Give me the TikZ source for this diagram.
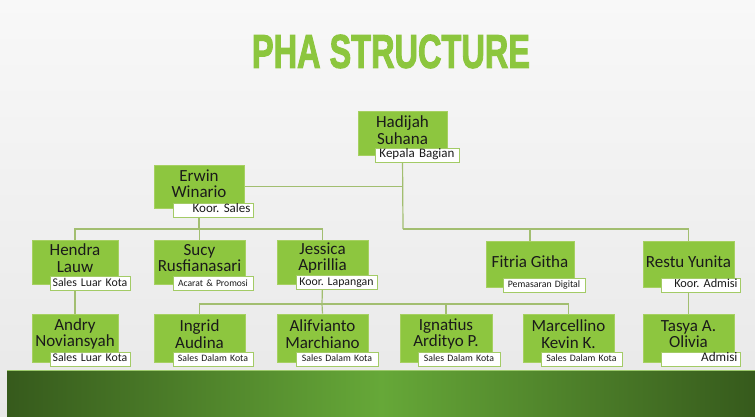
\documentclass[tikz,border=0pt]{standalone}
\usepackage{fontspec}
\setmainfont{Carlito}
\newfontfamily\titlefont[FakeBold=2.5]{Liberation Sans Bold}
\usetikzlibrary{backgrounds}
\definecolor{boxgreen}{HTML}{8DC63F}
\definecolor{boxedge}{HTML}{A6D061}
\definecolor{lbledge}{HTML}{A3CB66}
\definecolor{linkcol}{HTML}{A2BE70}
\definecolor{titlegreen}{HTML}{8CC63E}
\definecolor{banddark}{HTML}{365A1C}
\definecolor{bandmid}{HTML}{66A838}
\definecolor{bandtop}{HTML}{9CC96B}
\definecolor{bgtop}{HTML}{F8F8F8}
\definecolor{bgbot}{HTML}{E8E8E8}
\definecolor{inkcol}{HTML}{1A1A1A}
\frenchspacing
\newcommand\person[7]{% id, x, y, w, h, text, raise
  \node[pbox, minimum width=#4pt, minimum height=#5pt] (#1) at (#2,#3) {};
  \node[ptext] (#1T) at ([yshift=#7pt]#1.center) {#6};}
\begin{document}
\begin{tikzpicture}[x=1pt,y=-1pt,
  pbox/.style={fill=boxgreen, draw=boxedge, line width=0.8pt, inner sep=0pt},
  ptext/.style={inner sep=0pt, align=center, text=inkcol, font=\fontsize{17}{16.5}\selectfont},
  lbl/.style={fill=white, draw=lbledge, line width=1pt, inner sep=0pt,
    text=inkcol, minimum height=14pt, text height=7.5pt, text depth=2pt},
  link/.style={draw=linkcol, line width=1.2pt},
  fs/.style={font=\fontsize{#1}{#1}\selectfont}
]
\useasboundingbox (0,0) rectangle (755,416);
\begin{scope}[on background layer]
  \fill[top color=bgtop, bottom color=bgbot] (0,0) rectangle (755,416);
  \fill[left color=banddark, right color=banddark, middle color=bandmid] (7,370) rectangle (755,416);
  \draw[bandtop, line width=1pt] (7,370.5) -- (755,370.5);
\end{scope}

% title
\node[text=titlegreen, inner sep=0pt] (title) at (391,51.5)
  {\resizebox{278pt}{33pt}{\titlefont PHA STRUCTURE}};

% level 1
\person{had}{402.5}{133}{89}{44}{Hadijah\\Suhana}{3}
\node[lbl, fs=13, minimum width=84pt, text width=80pt, align=center] (hadL) at (417,155) {Kepala Bagian};

% level 2
\person{erw}{199}{186.5}{90}{43}{Erwin\\Winario}{3}
\node[lbl, fs=13, minimum width=80pt, text width=75pt, align=right] (erwL) at (213,210) {Koor. Sales};

% level 3
\person{hen}{75}{262}{86}{44}{Hendra\\Lauw}{4}
\node[lbl, fs=11.8, minimum width=80pt, text width=78pt, align=center] (henL) at (90,283.5) {Sales Luar Kota};

\person{suc}{199.5}{262}{91}{44}{Sucy\\Rusfianasari}{4}
\node[lbl, fs=9.6, minimum width=80pt, text width=78pt, align=center] (sucL) at (213,283.5) {Acarat \& Promosi};

\person{jes}{322.5}{262}{91}{44}{Jessica\\Aprillia}{4}
\node[lbl, fs=11.8, minimum width=81pt, text width=79pt, align=center] (jesL) at (336.5,282.5) {Koor. Lapangan};

\person{fit}{530}{264}{88}{46}{Fitria Githa}{2}
\node[lbl, fs=9.8, minimum width=82pt, text width=80pt, align=center] (fitL) at (544,285) {Pemasaran Digital};

\person{res}{688.5}{264}{91}{46}{Restu Yunita}{2}
\node[lbl, fs=12.3, minimum width=79pt, text width=74pt, align=right] (resL) at (700.5,285) {Koor. Admisi};

% level 4
\person{and}{75}{338}{86}{48}{Andry\\Noviansyah}{4}
\node[lbl, fs=11.8, minimum width=80pt, text width=78pt, align=center] (andL) at (90,359) {Sales Luar Kota};

\person{ing}{199.5}{338}{91}{48}{Ingrid\\Audina}{4}
\node[lbl, fs=9.8, minimum width=80pt, text width=78pt, align=center] (ingL) at (213,359) {Sales Dalam Kota};

\person{ali}{322.5}{338}{91}{48}{Alifvianto\\Marchiano}{4}
\node[lbl, fs=9.8, minimum width=82pt, text width=80pt, align=center] (aliL) at (337,359) {Sales Dalam Kota};

\person{ign}{446}{338}{92}{48}{Ignatius\\Ardityo P.}{4}
\node[lbl, fs=9.8, minimum width=82pt, text width=80pt, align=center] (ignL) at (459,359) {Sales Dalam Kota};

\person{mar}{568.5}{338}{91}{48}{Marcellino\\Kevin K.}{4}
\node[lbl, fs=9.8, minimum width=81pt, text width=79pt, align=center] (marL) at (581.5,359) {Sales Dalam Kota};

\person{tas}{688.5}{338}{91}{48}{Tasya A.\\Olivia}{4}
\node[lbl, fs=13.2, minimum width=79pt, text width=74pt, align=right] (tasL) at (700.5,359) {Admisi};

% connectors
\begin{scope}[on background layer]
  \coordinate (busA) at (403,229);
  \coordinate (busB) at (199,229);
  \coordinate (busC) at (322,304);
  \draw[link] (had.south) -- (busA);
  \draw[link] (erw.east) -- (erw.east -| had.south);
  \draw[link] (busA) -| (fit.north);
  \draw[link] (busA) -| (res.north);
  \draw[link] (erw.south) -- (busB);
  \draw[link] (busB) -| (hen.north);
  \draw[link] (busB) -| (suc.north);
  \draw[link] (busB) -| (jes.north);
  \draw[link] (hen.south) -- (and.north);
  \draw[link] (jes.south) -- (busC);
  \draw[link] (busC) -| (ing.north);
  \draw[link] (busC) -- (ali.north);
  \draw[link] (busC) -| (ign.north);
  \draw[link] (busC) -| (mar.north);
  \draw[link] (res.south) -- (tas.north);
\end{scope}
\end{tikzpicture}
\end{document}
